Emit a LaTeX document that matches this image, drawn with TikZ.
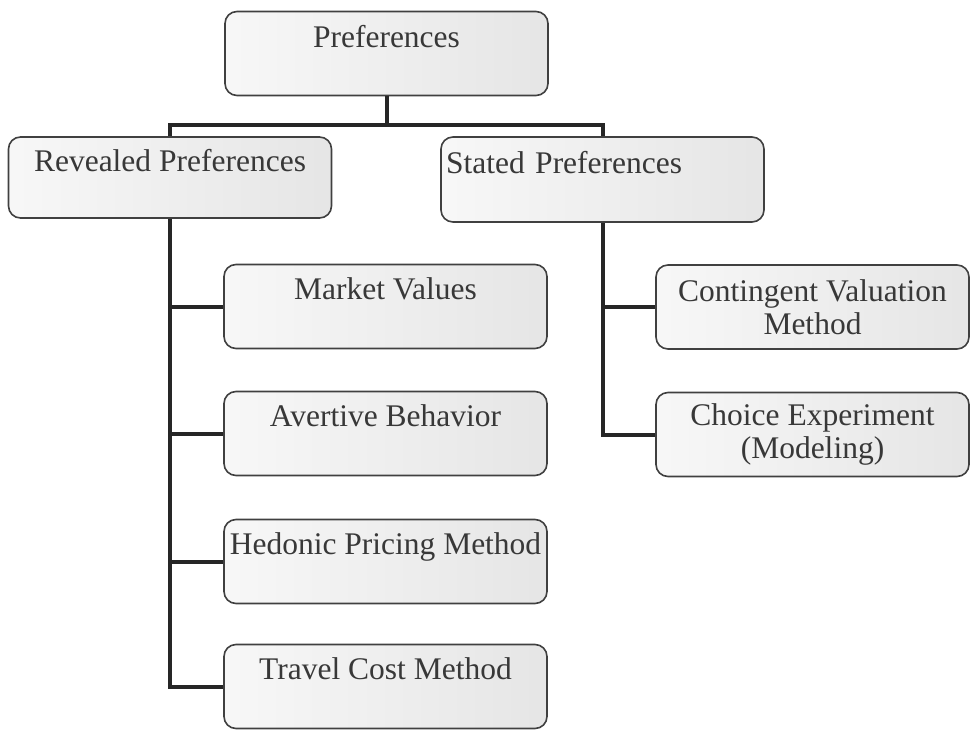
\documentclass[tikz,border=0pt]{standalone}
\usepackage{fontspec}
\setmainfont{Liberation Serif}

\begin{document}
\begin{tikzpicture}[x=1pt,y=-1pt]
	\tikzstyle{method}=[draw=black!75, line width=1.6pt, rounded corners=12pt, left color=black!3, right color=black!10, text=black!78, font=\fontsize{31.5}{33}\selectfont, align=center, minimum width=323pt, minimum height=84pt, inner sep=0pt]
	\tikzstyle{branch}=[draw=black!85, line width=4pt]
	\useasboundingbox (0,0) rectangle (970,729);
	
	\node[method] (pref) at (386.5,53.5) {Preferences\\[-8pt]\strut};
	\node[method, minimum height=81pt] (rev) at (170,177.5) {Revealed Preferences\\[-8pt]\strut};
	\node[method, align=left, text width=313pt, inner xsep=5pt, minimum height=85pt] (stat) at (602.5,179.5) {Stated Preferences\\[-8pt]\strut};
	
	\node[method] (mkt) at (385.5,306.5) {Market Values\\[-8pt]\strut};
	\node[method] (avert) at (385.5,433.5) {Avertive Behavior\\[-8pt]\strut};
	\node[method] (hedo) at (385.5,561.5) {Hedonic Pricing Method\\[-8pt]\strut};
	\node[method] (trav) at (385.5,686.5) {Travel Cost Method\\[-8pt]\strut};
	
	\node[method, minimum width=313pt] (cvm) at (812.5,307) {Contingent Valuation\\Method};
	\node[method, minimum width=313pt] (ce) at (812.5,434.5) {Choice Experiment\\(Modeling)};
	
	% fork below the top box
	\draw[branch] (pref.south) -- ++(0,29) coordinate (fork);
	\draw[branch] (rev.north) |- (fork) -| (stat.north);
	
	% revealed side
	\draw[branch] (rev.south) |- (trav.west);
	\foreach \m in {mkt,avert,hedo}
		\draw[branch] (rev.south |- \m.west) -- (\m.west);
	
	% stated side
	\draw[branch] (stat.south) |- (ce.west);
	\draw[branch] (stat.south |- cvm.west) -- (cvm.west);
\end{tikzpicture}
\end{document}
